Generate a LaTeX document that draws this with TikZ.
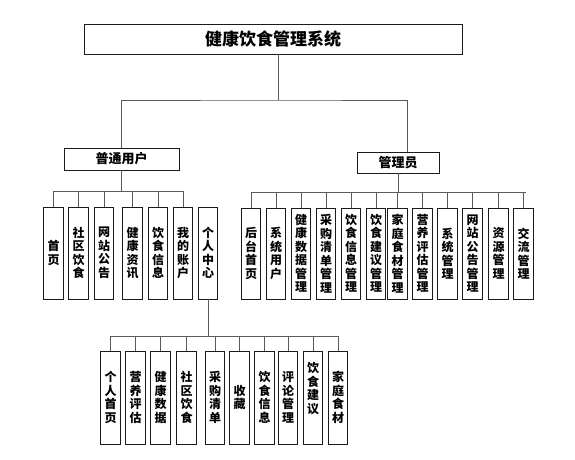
\documentclass[tikz,border=0pt]{standalone}
\usepackage{fontspec}
\setmainfont{Noto Sans CJK SC}
\usepackage{tikz}
\definecolor{ln}{HTML}{5a5a5a}
\definecolor{bx}{HTML}{1a1a1a}

\begin{document}
\begin{tikzpicture}[x=1pt,y=-1pt]
          \tikzstyle{every node}=[font=\bfseries]
          \tikzstyle{box}=[draw=bx,line width=0.9pt,fill=white,inner sep=0pt]
          \tikzstyle{vbox}=[box,minimum width=19.5pt,minimum height=92pt,align=center,font=\bfseries\fontsize{12}{13.5}\selectfont]
          \tikzstyle{link}=[color=ln,line width=1pt]
          \useasboundingbox (0,0) rectangle (575,460);
          % top levels
          \node[box,minimum width=378pt,minimum height=30pt,font=\bfseries\fontsize{17}{20}\selectfont] (sys) at (273,39) {健康饮食管理系统};
          \node[box,minimum width=115pt,minimum height=22pt,font=\bfseries\fontsize{13}{15}\selectfont] (user) at (121.5,159) {普通用户};
          \node[box,minimum width=82pt,minimum height=21pt,font=\bfseries\fontsize{13}{15}\selectfont] (admin) at (398,162.5) {管理员};
          \coordinate (tb) at (278,100);
          \draw[link] (sys.south -| tb) -- (tb);
          \draw[link] (user.north) |- (tb) -| ([xshift=9pt]admin.north);
          % user menu
          \node[vbox] (u1) at (53.5,253) {首\\页};
          \node[vbox] (u2) at (78.5,253) {社\\区\\饮\\食};
          \node[vbox] (u3) at (104,253) {网\\站\\公\\告};
          \node[vbox] (u4) at (132.5,253) {健\\康\\资\\讯};
          \node[vbox] (u5) at (158,253) {饮\\食\\信\\息};
          \node[vbox] (u6) at (183,253) {我\\的\\账\\户};
          \node[vbox] (u7) at (208,253) {个\\人\\中\\心};
          \coordinate (ub) at (121.5,191);
          \draw[link] (user.south) -- (ub);
          \draw[link] (u1.north |- ub) -- (u6.north |- ub);
          \foreach \i in {1,...,6}
            \draw[link] (u\i.north |- ub) -- (u\i.north);
          % admin menu
          \node[vbox,minimum height=91pt] (a1) at (251,253.5) {后\\台\\首\\页};
          \node[vbox,minimum height=91pt] (a2) at (276,253.5) {系\\统\\用\\户};
          \node[vbox,minimum height=91pt] (a3) at (301,253.5) {健\\康\\数\\据\\管\\理};
          \node[vbox,minimum height=91pt] (a4) at (326,253.5) {采\\购\\清\\单\\管\\理};
          \node[vbox,minimum height=91pt] (a5) at (351,253.5) {饮\\食\\信\\息\\管\\理};
          \node[vbox,minimum height=91pt] (a6) at (376,253.5) {饮\\食\\建\\议\\管\\理};
          \node[vbox,minimum height=91pt] (a7) at (397.5,253.5) {家\\庭\\食\\材\\管\\理};
          \node[vbox,minimum height=91pt] (a8) at (422.5,253.5) {营\\养\\评\\估\\管\\理};
          \node[vbox,minimum height=91pt] (a9) at (447.5,253.5) {系\\统\\管\\理};
          \node[vbox,minimum height=91pt] (a10) at (472.5,253.5) {网\\站\\公\\告\\管\\理};
          \node[vbox,minimum height=91pt] (a11) at (498.5,253.5) {资\\源\\管\\理};
          \node[vbox,minimum height=91pt] (a12) at (523.5,253.5) {交\\流\\管\\理};
          \coordinate (ab) at (398,192);
          \draw[link] (admin.south) -- (ab);
          \draw[link] (a1.north |- ab) -- ([xshift=2.5pt]a12.north |- ab);
          \foreach \i in {1,...,12}
            \draw[link] (a\i.north |- ab) -- (a\i.north);
          % personal center
          \node[vbox,minimum height=93pt] (p1) at (110.5,397.5) {个\\人\\首\\页};
          \node[vbox,minimum height=93pt] (p2) at (135.5,397.5) {营\\养\\评\\估};
          \node[vbox,minimum height=93pt] (p3) at (160.5,397.5) {健\\康\\数\\据};
          \node[vbox,minimum height=93pt] (p4) at (186.5,397.5) {社\\区\\饮\\食};
          \node[vbox,minimum height=93pt] (p5) at (215,397.5) {采\\购\\清\\单};
          \node[vbox,minimum height=93pt] (p6) at (239.5,397.5) {收\\藏};
          \node[vbox,minimum height=93pt] (p7) at (264.5,397.5) {饮\\食\\信\\息};
          \node[vbox,minimum height=93pt] (p8) at (288,397.5) {评\\论\\管\\理};
          \node[vbox,minimum height=93pt] (p9) at (313,397.5) {饮\\食\\建\\议\\[6pt]};
          \node[vbox,minimum height=93pt] (p10) at (338,397.5) {家\\庭\\食\\材};
          \coordinate (pb) at (208,336);
          \draw[link] (u7.south) -- (pb);
          \draw[link] (p1.north |- pb) -- (p10.north |- pb);
          \foreach \i in {1,...,10}
            \draw[link] (p\i.north |- pb) -- (p\i.north);
        \end{tikzpicture}
\end{document}
